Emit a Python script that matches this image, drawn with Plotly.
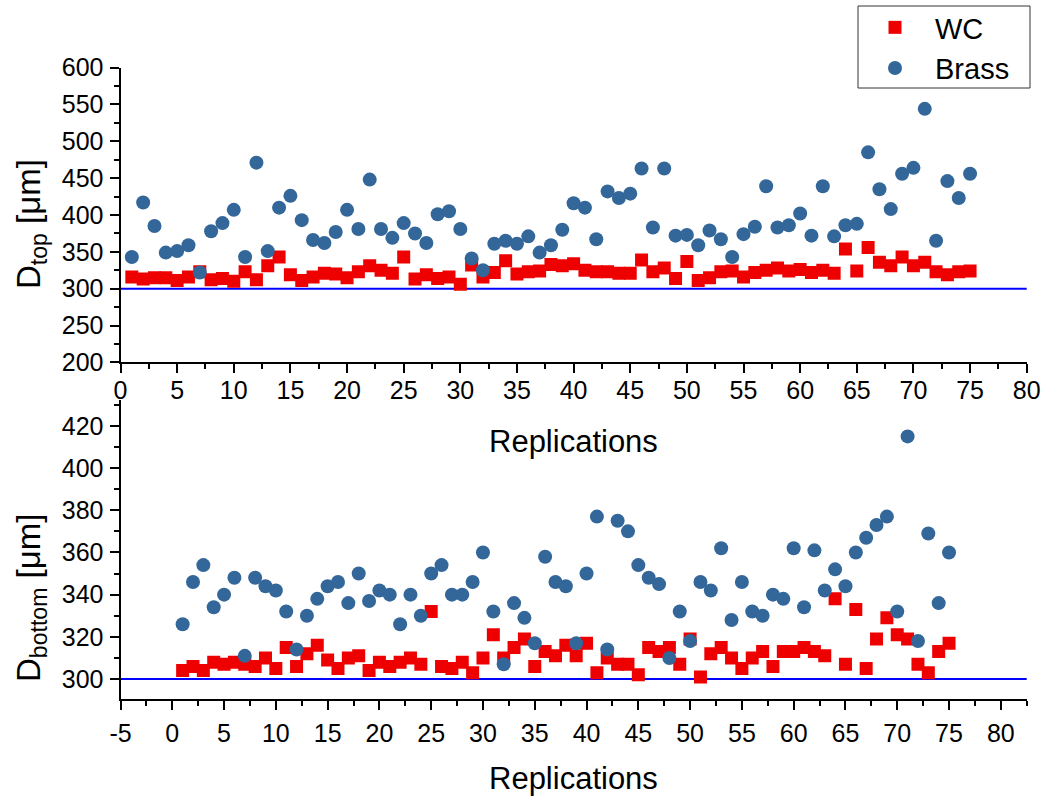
import plotly.graph_objects as go

# Replication index (1..75)
replications = list(range(1, 76))

# Top diameter, µm
d_top_wc = [316, 313, 315, 315, 311, 316, 323, 312, 314, 310,
            323, 312, 331, 343, 319, 311, 316, 321, 320, 315,
            323, 331, 325, 321, 343, 313, 319, 314, 316, 306,
            332, 316, 322, 338, 320, 323, 324, 333, 331, 334,
            325, 323, 323, 321, 321, 339, 323, 328, 314, 337,
            311, 315, 323, 324, 316, 322, 325, 328, 324, 326,
            322, 325, 321, 354, 324, 356, 336, 331, 343, 331,
            336, 323, 319, 323, 324]
d_top_brass = [343, 417, 385, 349, 351, 359, 322, 378, 389, 407,
               343, 471, 351, 410, 426, 393, 366, 362, 377, 407,
               381, 448, 381, 369, 389, 375, 362, 401, 405, 381,
               341, 325, 361, 365, 361, 371, 349, 359, 380, 416,
               410, 367, 432, 423, 429, 463, 383, 463, 372, 373,
               359, 379, 367, 343, 374, 384, 439, 383, 386, 402,
               372, 439, 371, 386, 388, 485, 435, 408, 456, 464,
               544, 365, 446, 423, 456]

# Bottom diameter, µm
d_bottom_wc = [304, 306, 304, 308, 307, 308, 307, 306, 310, 305,
               315, 306, 312, 316, 309, 305, 310, 311, 304, 308,
               306, 308, 310, 307, 332, 306, 305, 308, 303, 310,
               321, 310, 315, 319, 306, 313, 311, 316, 311, 317,
               303, 310, 307, 307, 302, 315, 313, 315, 307, 319,
               301, 312, 315, 310, 305, 310, 313, 306, 313, 313,
               315, 313, 311, 338, 307, 333, 305, 319, 329, 321,
               319, 307, 303, 313, 317]
d_bottom_brass = [326, 346, 354, 334, 340, 348, 311, 348, 344, 342,
                  332, 314, 330, 338, 344, 346, 336, 350, 337, 342,
                  340, 326, 340, 330, 350, 354, 340, 340, 346, 360,
                  332, 307, 336, 329, 317, 358, 346, 344, 317, 350,
                  377, 314, 375, 370, 354, 348, 345, 310, 332, 318,
                  346, 342, 362, 328, 346, 332, 330, 340, 338, 362,
                  334, 361, 342, 352, 344, 360, 367, 373, 377, 332,
                  415, 318, 369, 336, 360]

# Tick positions/labels of the lower replication axis
bottom_x_ticks = list(range(-5, 81, 5))
bottom_x_ticktext = [str(v) for v in bottom_x_ticks]

NOMINAL_D = 300  # nominal diameter, µm

WC_COLOR = "#EE0000"
BRASS_COLOR = "#336699"
FONT = "Liberation Sans, Arial, sans-serif"

W, H = 1045, 798
X_DOMAIN = [120.5 / W, 1026.7 / W]
TOP_DOMAIN = [1 - 362.4 / H, 1 - 67.6 / H]
BOTTOM_DOMAIN = [1 - 699.3 / H, 1 - 399.5 / H]

fig = go.Figure()

wc_marker = dict(symbol="square", size=13, color=WC_COLOR)
brass_marker = dict(symbol="circle", size=14, color=BRASS_COLOR)

fig.add_trace(go.Scatter(x=replications, y=d_top_wc, mode="markers", name="WC",
                         marker=wc_marker, xaxis="x", yaxis="y"))
fig.add_trace(go.Scatter(x=replications, y=d_top_brass, mode="markers", name="Brass",
                         marker=brass_marker, xaxis="x", yaxis="y"))
fig.add_trace(go.Scatter(x=replications, y=d_bottom_wc, mode="markers", name="WC",
                         marker=wc_marker, xaxis="x2", yaxis="y2", showlegend=False))
fig.add_trace(go.Scatter(x=replications, y=d_bottom_brass, mode="markers", name="Brass",
                         marker=brass_marker, xaxis="x2", yaxis="y2", showlegend=False))

axis_style = dict(
    showline=True, linecolor="black", linewidth=2,
    ticks="outside", ticklen=9, tickwidth=2, tickcolor="black",
    showgrid=False, zeroline=False, automargin=False,
    tickfont=dict(family=FONT, size=25, color="black"),
)


def minor(step):
    return dict(dtick=step, ticks="outside", ticklen=5, tickwidth=2, tickcolor="black")


fig.update_layout(
    width=W, height=H,
    margin=dict(l=0, r=0, t=0, b=0, autoexpand=False),
    paper_bgcolor="white", plot_bgcolor="white",
    xaxis=dict(axis_style, domain=X_DOMAIN, range=[0, 80], tick0=0, dtick=5,
               minor=minor(2.5), anchor="y", ticklabelstandoff=-4),
    yaxis=dict(axis_style, domain=TOP_DOMAIN, range=[200, 600], tick0=0, dtick=50,
               minor=minor(25), anchor="x", ticklabelstandoff=1),
    xaxis2=dict(axis_style, domain=X_DOMAIN, range=[-5, 82.5],
                tickmode="array", tickvals=bottom_x_ticks, ticktext=bottom_x_ticktext,
                minor=minor(2.5), anchor="y2", ticklabelstandoff=2),
    yaxis2=dict(axis_style, domain=BOTTOM_DOMAIN, range=[290.4, 432.5], tick0=0, dtick=20,
                minor=minor(10), anchor="x2", ticklabelstandoff=1),
    legend=dict(x=855 / W, y=1 - 2 / H, xanchor="left", yanchor="top",
                bgcolor="rgba(0,0,0,0)", borderwidth=0, itemwidth=70,
                font=dict(family=FONT, size=29, color="black")),
    showlegend=True,
)

# nominal diameter reference lines
for xr, yr in (("x domain", "y"), ("x2 domain", "y2")):
    fig.add_shape(type="line", xref=xr, yref=yr, x0=0, x1=1, y0=NOMINAL_D, y1=NOMINAL_D,
                  line=dict(color="#0000FF", width=2), layer="below")

# legend frame
fig.add_shape(type="rect", xref="paper", yref="paper",
              x0=858 / W, x1=1030 / W, y0=1 - 88 / H, y1=1 - 6 / H,
              line=dict(color="#333333", width=1), fillcolor="rgba(0,0,0,0)")

title_font = dict(family=FONT, size=31, color="black")
ytitle_font = dict(family=FONT, size=33, color="black")
xc = (X_DOMAIN[0] + X_DOMAIN[1]) / 2
fig.add_annotation(text="Replications", xref="paper", yref="paper", x=xc, y=1 - 441 / H,
                   showarrow=False, xanchor="center", yanchor="middle", font=title_font)
fig.add_annotation(text="Replications", xref="paper", yref="paper", x=xc, y=1 - 778 / H,
                   showarrow=False, xanchor="center", yanchor="middle", font=title_font)
fig.add_annotation(text="D<sub>top</sub> [μm]", xref="paper", yref="paper",
                   x=31 / W, y=1 - 224 / H, textangle=-90,
                   showarrow=False, xanchor="center", yanchor="middle", font=ytitle_font)
fig.add_annotation(text="D<sub>bottom</sub> [μm]", xref="paper", yref="paper",
                   x=31 / W, y=1 - 598 / H, textangle=-90,
                   showarrow=False, xanchor="center", yanchor="middle", font=ytitle_font)

fig.write_html("out.html")
